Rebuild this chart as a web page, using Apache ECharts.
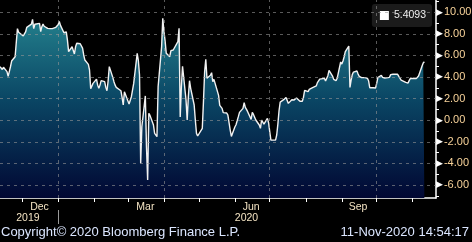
<!DOCTYPE html>
<html>
<head>
<meta charset="utf-8">
<script src="https://cdn.jsdelivr.net/npm/echarts@6/dist/echarts.min.js"></script>
<style>
  html, body { margin: 0; padding: 0; background: #000; }
  #chart { width: 472px; height: 242px; }
</style>
</head>
<body>
<div id="chart"></div>
<script>
// ---- Data (business days from 12-Nov-2019 to 11-Nov-2020) ----
const startDate = [2019, 10, 12];
const values = [
  4.96,5.0,4.7,4.9,4.5,4.06,4.5,4.95,5.48,5.88,
  7.2,8.48,8.14,8.08,7.8,7.92,8.17,8.6,8.5,8.9,
  9.34,8.48,8.88,8.94,8.97,8.2,8.66,8.9,8.7,8.5,
  8.5,8.48,8.45,8.48,8.6,8.5,8.84,9.15,8.78,8.1,
  8.2,8.17,7.42,6.35,6.8,
  6.9,6.13,6.8,7.12,7.08,7.05,6.68,6.04,5.57,5.17,
  4.65,2.92,2.83,3.41,3.8,3.25,2.95,3.25,3.66,3.57,
  3.04,2.73,3.63,4.96,3.97,3.57,3.25,3.04,2.95,2.73,
  2.11,1.41,2.64,2.64,1.5,1.56,2.18,2.33,3.41,6.19,
  5.51,4.19,-3.99,-0.6,2.25,-2.5,
  -5.54,0.64,0.45,-0.45,-1.22,-1.28,-1.52,3.1,6.81,
  9.43,8.2,7.36,6.19,5.88,6.44,6.44,6.5,6.56,7.27,
  8.51,0.3,3.1,5.0,1.87,0.02,2.18,3.66,2.95,1.41,
  0.02,-1.22,-1.46,-1.37,-0.75,1.72,4.49,5.64,3.88,4.16,
  4.4,3.57,3.78,3.41,2.3,
  1.37,1.31,1.1,0.7,0.67,0.48,0.33,-0.91,-1.5,-0.63,
  -0.42,-0.05,0.33,0.73,1.1,1.62,1.19,1.0,0.79,0.08,
  0.73,0.54,0.36,0.02,-0.44,-0.75,0.02,-0.14,-0.36,0.17,
  -0.23,-1.06,-1.84,-1.84,-1.84,-1.37,-0.36,0.88,1.68,1.9,
  2.0,2.11,2.02,1.56,
  1.9,1.75,1.87,2.0,2.05,1.75,1.62,1.75,2.11,2.76,
  2.64,2.86,2.76,2.98,3.01,3.17,3.48,3.63,3.8,3.78,
  3.88,3.63,3.78,4.12,4.62,4.09,3.78,3.72,3.66,3.88,
  5.39,5.2,5.48,5.88,6.35,6.87,3.04,3.72,4.22,4.46,
  4.56,4.27,4.06,4.06,
  3.94,3.94,3.94,3.88,3.66,3.01,3.01,3.17,2.98,3.41,
  3.94,4.16,3.97,3.91,3.91,3.97,3.97,4.22,4.28,4.25,
  4.19,4.25,4.06,3.91,3.72,3.78,3.5,3.32,3.44,3.69,
  3.88,3.85,3.75,3.85,3.72,4.09,5.02,5.3,5.4093
];
const monthTicks = [[2019,11,1],[2020,0,1],[2020,1,1],[2020,2,1],[2020,3,1],[2020,4,1],[2020,5,1],[2020,6,1],[2020,7,1],[2020,8,1],[2020,9,1],[2020,10,1]];
const monthLabels = [[2019,11,16,'Dec'],[2020,2,16,'Mar'],[2020,5,15,'Jun'],[2020,8,15,'Sep']];
const quarterLines = [[2020,0,1],[2020,3,1],[2020,6,1],[2020,9,1]];
const yearLabels = [[2019,11,6,'2019'],[2020,5,11,'2020']];
const yearSeparators = [[2020,0,1]];
const yLabelValues = [-6,-4,-2,0,2,4,6,8,10];
const yTickValues = [-7,-6,-5,-4,-3,-2,-1,0,1,2,3,4,5,6,7,8,9,10,11];
const axisEndDate = [2020, 10, 21];
const yMin = -7.2, yMax = 11.13;
const copyrightText = 'Copyright\u00a9 2020 Bloomberg Finance L.P.';
const stampText = '11-Nov-2020 14:54:17';

// ---- Build (x measured in days since the first date) ----
const DAY = 86400000;
const t0 = new Date(startDate[0], startDate[1], startDate[2]).getTime();
function dayOf(a) { return Math.round((new Date(a[0], a[1], a[2]).getTime() - t0) / DAY); }
function businessDays(start, n) {
  const out = [];
  const d = new Date(start[0], start[1], start[2]);
  while (out.length < n) {
    const wd = d.getDay();
    if (wd !== 0 && wd !== 6) out.push(Math.round((d.getTime() - t0) / DAY));
    d.setDate(d.getDate() + 1);
  }
  return out;
}
const days = businessDays(startDate, values.length);
const seriesData = days.map((d, i) => [d, values[i]]);
const lastName = values[values.length - 1].toFixed(4);
const xMax = dayOf(axisEndDate);
const dayCategories = Array.from({ length: xMax + 1 }, (_, i) => String(i));
const monthLabelMap = {}; monthLabels.forEach(m => { monthLabelMap[dayOf(m)] = m[3]; });
const yearLabelMap = {}; yearLabels.forEach(m => { yearLabelMap[dayOf(m)] = m[3]; });
const yearSepSet = {}; yearSeparators.forEach(m => { yearSepSet[dayOf(m)] = true; });

const xFont = "'Liberation Sans Narrow', 'Liberation Sans', Arial, sans-serif";
const chart = echarts.init(document.getElementById('chart'), null, { renderer: 'canvas' });
chart.setOption({
  backgroundColor: '#000000',
  animation: false,
  title: [
    { text: copyrightText, left: 1, top: 226, padding: 0,
      textStyle: { color: '#dbe6ff', fontSize: 13, fontWeight: 'normal', fontFamily: "'Liberation Sans', Arial, sans-serif" } },
    { text: stampText, right: 3, top: 226, padding: 0,
      textStyle: { color: '#dbe6ff', fontSize: 13, fontWeight: 'normal', fontFamily: "'Liberation Sans', Arial, sans-serif" } }
  ],
  legend: {
    right: 40, top: 4, icon: 'rect', itemWidth: 9, itemHeight: 9, itemGap: 5,
    backgroundColor: '#1b1b1b', borderRadius: 3, padding: [6, 6, 6, 8],
    textStyle: { color: '#eeeeee', fontSize: 10.5, fontFamily: xFont },
    data: [lastName]
  },
  grid: { left: 0, right: 36, top: 0, bottom: 44, containLabel: false, outerBoundsMode: 'none' },
  xAxis: [
    {
      type: 'value', min: 0, max: xMax,
      axisLine: { show: true, onZero: false, lineStyle: { color: '#ffffff', width: 1.5 } },
      axisTick: { show: true, customValues: monthTicks.map(dayOf), length: 4, lineStyle: { color: '#ffffff', width: 1 } },
      axisLabel: { show: false },
      splitLine: { show: false }
    },
    {
      type: 'category', data: dayCategories, boundaryGap: false, position: 'bottom', offset: 0,
      axisLine: { show: false, onZero: false },
      axisTick: { show: false },
      axisLabel: { show: true, margin: 4, interval: (i) => monthLabelMap[i] !== undefined,
        formatter: (v) => monthLabelMap[Number(v)] || '', color: '#f3e3c3', fontSize: 10.5, fontFamily: xFont },
      splitLine: { show: false }
    },
    {
      type: 'category', data: dayCategories, boundaryGap: false, position: 'bottom', offset: 12,
      axisLine: { show: false, onZero: false },
      axisTick: { show: true, interval: (i) => !!yearSepSet[i], length: 14, lineStyle: { color: '#9a9a9a', width: 1 } },
      axisLabel: { show: true, margin: 3, interval: (i) => yearLabelMap[i] !== undefined,
        formatter: (v) => yearLabelMap[Number(v)] || '', color: '#f3e3c3', fontSize: 10.5, fontFamily: xFont },
      splitLine: { show: false }
    }
  ],
  yAxis: {
    type: 'value', position: 'right', min: yMin, max: yMax, scale: true,
    axisLine: { show: true, onZero: false, lineStyle: { color: '#ffffff', width: 1.5 } },
    axisTick: { show: true, customValues: yTickValues, length: 3, lineStyle: { color: '#ffffff' } },
    axisLabel: {
      show: true, customValues: yLabelValues, margin: 0,
      formatter: v => '{t|\u25B6}{v|' + Number(v).toFixed(2) + '}',
      rich: {
        t: { color: '#ffffff', fontSize: 9, fontFamily: 'DejaVu Sans' },
        v: { color: '#f8d39a', fontSize: 11, fontFamily: xFont, padding: [0, 0, 0, 1] }
      }
    },
    splitLine: { show: false }
  },
  series: [{
    name: lastName,
    type: 'line',
    xAxisIndex: 0,
    data: seriesData,
    showSymbol: false,
    symbol: 'none',
    color: '#ffffff',
    lineStyle: { color: '#f2f2f2', width: 1.4 },
    areaStyle: {
      origin: 'start',
      opacity: 1,
      color: new echarts.graphic.LinearGradient(0, 0, 0, 1, [
        { offset: 0, color: '#237f8c' },
        { offset: 0.45, color: '#0a4664' },
        { offset: 1, color: '#010733' }
      ])
    },
    markLine: {
      silent: true, symbol: ['none', 'none'], label: { show: false },
      lineStyle: { color: 'rgba(150,150,150,0.6)', type: [3, 4], width: 1 },
      emphasis: { disabled: true },
      data: yLabelValues.map(v => ({ yAxis: v })).concat(quarterLines.map(q => ({ xAxis: dayOf(q) })))
    }
  }]
});
</script>
</body>
</html>
